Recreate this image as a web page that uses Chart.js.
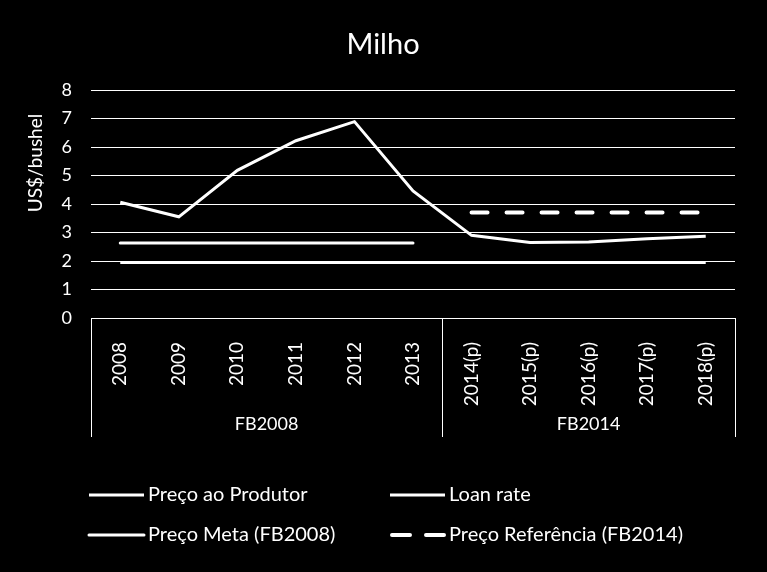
<!doctype html>
<html>
<head>
    <title>Milho</title>
    <script src="https://cdn.jsdelivr.net/npm/chart.js@4.4.0/dist/chart.umd.min.js"></script>
    <style>
        html, body { margin: 0; padding: 0; background: #000; }
        #wrap { width: 767px; height: 572px; }
    </style>
</head>
<body>
    <div id="wrap"><canvas id="myChart" width="767" height="572"></canvas></div>
    <script>
    var categories = ['2008', '2009', '2010', '2011', '2012', '2013', '2014(p)', '2015(p)', '2016(p)', '2017(p)', '2018(p)'];
    var groupLabels = ['FB2008', 'FB2014'];
    var groupSizes = [6, 5];
    var precoProdutor = [4.06, 3.55, 5.18, 6.22, 6.89, 4.46, 2.90, 2.65, 2.67, 2.78, 2.87];
    var loanRate = [1.95, 1.95, 1.95, 1.95, 1.95, 1.95, 1.95, 1.95, 1.95, 1.95, 1.95];
    var precoMeta = [2.63, 2.63, 2.63, 2.63, 2.63, 2.63, null, null, null, null, null];
    var precoReferencia = [null, null, null, null, null, null, 3.70, 3.70, 3.70, 3.70, 3.70];

    var FONT = 'Lato, "Open Sans", sans-serif';

    // titulo, titulo do eixo y, grupos do eixo x e legenda
    var extras = {
        id: 'extras',
        afterDraw: function(chart) {
            var ctx = chart.ctx;
            var x = chart.scales.x;
            var area = chart.chartArea;
            ctx.save();
            ctx.fillStyle = '#fff';
            ctx.strokeStyle = '#fff';

            ctx.font = '29px ' + FONT;
            ctx.textAlign = 'center';
            ctx.textBaseline = 'middle';
            ctx.fillText('Milho', 383, 45);

            ctx.save();
            ctx.translate(36, 163);
            ctx.rotate(-Math.PI / 2);
            ctx.font = '19px ' + FONT;
            ctx.fillText('US$/bushel', 0, 0);
            ctx.restore();

            // linhas e rotulos dos grupos
            ctx.lineWidth = 1;
            var start = 0;
            var left = area.left;
            ctx.beginPath();
            ctx.moveTo(left + 0.5, area.bottom);
            ctx.lineTo(left + 0.5, x.bottom);
            ctx.stroke();
            ctx.font = '18px ' + FONT;
            for (var g = 0; g < groupLabels.length; g++) {
                var end = start + groupSizes[g] - 1;
                var right;
                if (end >= categories.length - 1) {
                    right = area.right;
                } else {
                    right = (x.getPixelForValue(end) + x.getPixelForValue(end + 1)) / 2;
                }
                ctx.beginPath();
                ctx.moveTo(Math.round(right) + 0.5, area.bottom);
                ctx.lineTo(Math.round(right) + 0.5, x.bottom);
                ctx.stroke();
                ctx.fillText(groupLabels[g], (left + right) / 2, 424);
                left = right;
                start = end + 1;
            }

            // legenda em duas colunas
            var items = [
                { ds: 0, x: 89, y: 495 },
                { ds: 1, x: 390, y: 495 },
                { ds: 2, x: 89, y: 535 },
                { ds: 3, x: 390, y: 535 }
            ];
            ctx.textAlign = 'left';
            ctx.font = '20px ' + FONT;
            items.forEach(function(it) {
                var ds = chart.data.datasets[it.ds];
                ctx.save();
                ctx.lineWidth = ds.borderWidth;
                ctx.lineCap = ds.borderCapStyle || 'butt';
                ctx.setLineDash(ds.borderDash ? [18, 16] : []);
                ctx.beginPath();
                ctx.moveTo(it.x + (ds.borderDash ? 2 : 0), it.y);
                ctx.lineTo(it.x + 55, it.y);
                ctx.stroke();
                ctx.restore();
                ctx.fillText(ds.label, it.x + 59, it.y);
            });
            ctx.restore();
        }
    };

    var ctx = document.getElementById('myChart').getContext('2d');
    new Chart(ctx, {
        type: 'line',
        data: {
            labels: categories,
            datasets: [
                {
                    label: 'Preço ao Produtor',
                    data: precoProdutor,
                    borderColor: '#fff',
                    borderWidth: 3,
                    pointRadius: 0
                },
                {
                    label: 'Loan rate',
                    data: loanRate,
                    borderColor: '#fff',
                    borderWidth: 3,
                    pointRadius: 0
                },
                {
                    label: 'Preço Meta (FB2008)',
                    data: precoMeta,
                    borderColor: '#fff',
                    borderWidth: 3,
                    borderCapStyle: 'round',
                    pointRadius: 0
                },
                {
                    label: 'Preço Referência (FB2014)',
                    data: precoReferencia,
                    borderColor: '#fff',
                    borderWidth: 4,
                    borderDash: [16, 19],
                    borderCapStyle: 'round',
                    pointRadius: 0
                }
            ]
        },
        options: {
            responsive: false,
            animation: false,
            layout: { padding: { left: 0, right: 32, top: 90, bottom: 135 } },
            plugins: {
                legend: { display: false },
                title: { display: false },
                tooltip: { enabled: false }
            },
            scales: {
                x: {
                    offset: true,
                    grid: { display: false },
                    border: { display: false },
                    ticks: {
                        color: '#fff',
                        font: { family: FONT, size: 19 },
                        minRotation: 90,
                        maxRotation: 90,
                        autoSkip: false,
                        padding: 16
                    },
                    afterFit: function(s) { s.height = 119; }
                },
                y: {
                    min: 0,
                    max: 8,
                    grid: { color: '#fff', lineWidth: 1, drawTicks: false },
                    border: { display: false },
                    ticks: {
                        color: '#fff',
                        stepSize: 1,
                        font: { family: FONT, size: 18 },
                        padding: 19
                    },
                    afterFit: function(s) { s.width = 91; }
                }
            }
        },
        plugins: [extras]
    });
    </script>
</body>
</html>
